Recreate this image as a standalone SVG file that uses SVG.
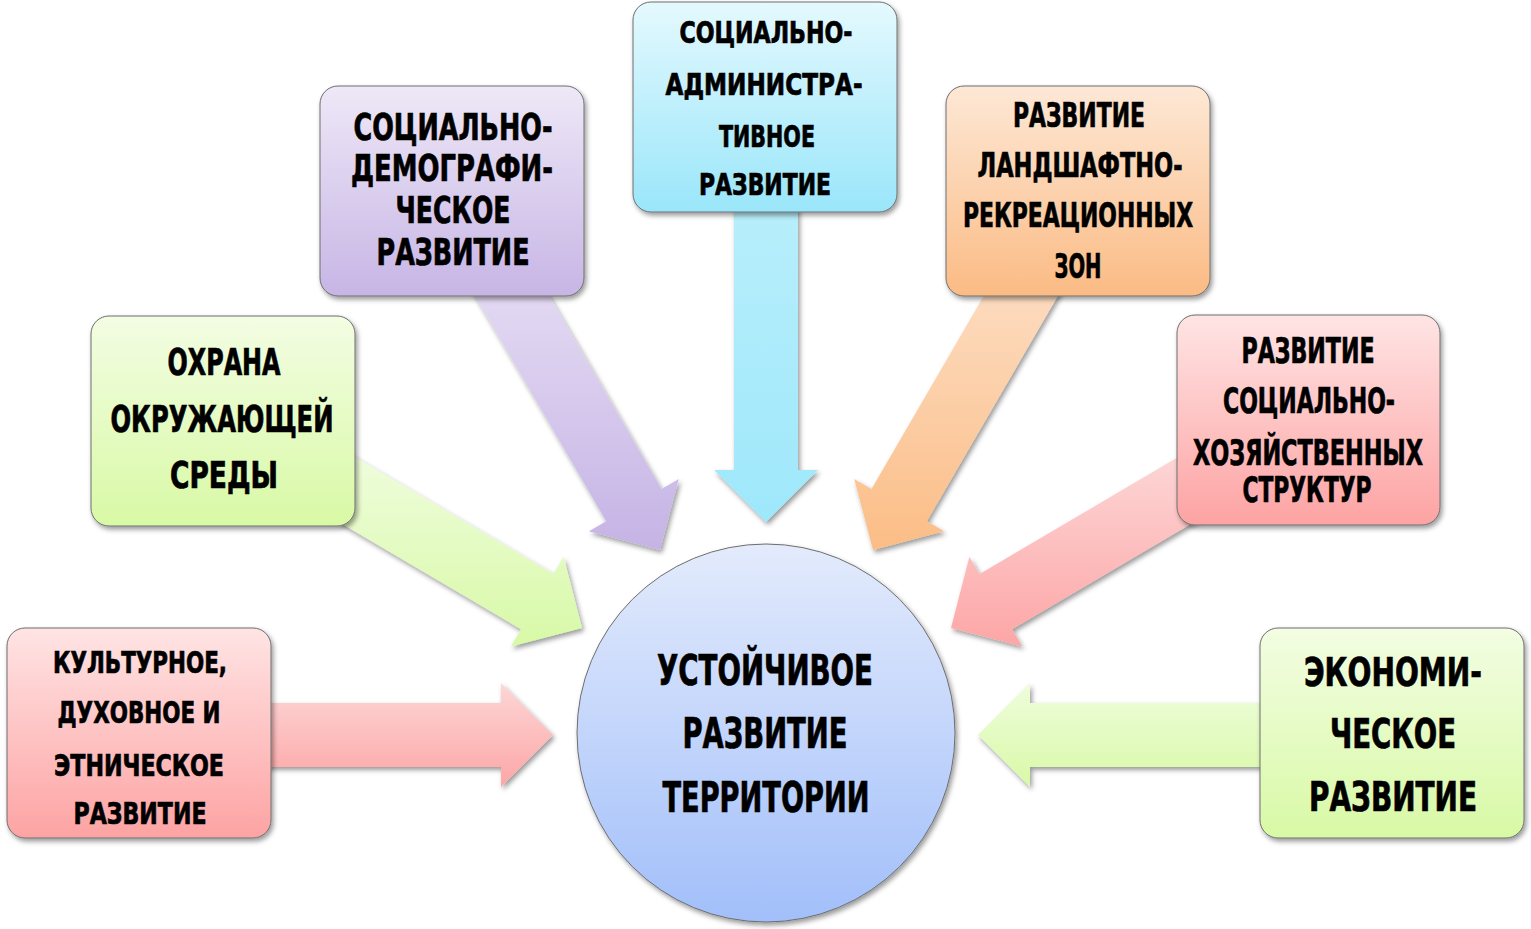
<svg xmlns="http://www.w3.org/2000/svg" width="1531" height="929" viewBox="0 0 1531 929">
<style>
.box{stroke:#6e6e6e;stroke-width:1;filter:url(#sh)}
.arr{filter:url(#sh)}
.t{font-family:"DejaVu Sans Condensed","Liberation Sans Narrow","DejaVu Sans","Liberation Sans",sans-serif;font-weight:bold;fill:#000;stroke:#000;stroke-width:0.7;text-anchor:middle}
</style>
<defs>
<filter id="sh" x="-20%" y="-20%" width="140%" height="140%">
<feDropShadow dx="2" dy="3" stdDeviation="2.5" flood-color="#000" flood-opacity="0.4"/>
</filter>
<linearGradient id="gPink" x1="0" y1="0" x2="0" y2="1"><stop offset="0" stop-color="#ffe4e4"/><stop offset="1" stop-color="#fda3a3"/></linearGradient>
<linearGradient id="gGreen" x1="0" y1="0" x2="0" y2="1"><stop offset="0" stop-color="#f3fde3"/><stop offset="1" stop-color="#d8f9a5"/></linearGradient>
<linearGradient id="gPurple" x1="0" y1="0" x2="0" y2="1"><stop offset="0" stop-color="#eee8f7"/><stop offset="1" stop-color="#c7b5e5"/></linearGradient>
<linearGradient id="gCyan" x1="0" y1="0" x2="0" y2="1"><stop offset="0" stop-color="#e4f9fe"/><stop offset="1" stop-color="#9ae6fa"/></linearGradient>
<linearGradient id="gOrange" x1="0" y1="0" x2="0" y2="1"><stop offset="0" stop-color="#fde8d6"/><stop offset="1" stop-color="#fbbb84"/></linearGradient>
<linearGradient id="gCircle" x1="0" y1="0" x2="0" y2="1"><stop offset="0" stop-color="#e3ebfc"/><stop offset="1" stop-color="#a2bffa"/></linearGradient>
<linearGradient id="aPink" x1="0" y1="0" x2="0" y2="1"><stop offset="0" stop-color="#fdd6d6"/><stop offset="1" stop-color="#fda6a6"/></linearGradient>
<linearGradient id="aGreen" x1="0" y1="0" x2="0" y2="1"><stop offset="0" stop-color="#effddc"/><stop offset="1" stop-color="#d8f9a7"/></linearGradient>
<linearGradient id="aPurple" x1="0" y1="0" x2="0" y2="1"><stop offset="0" stop-color="#e7def4"/><stop offset="1" stop-color="#c5b3e5"/></linearGradient>
<linearGradient id="aCyan" x1="0" y1="0" x2="0" y2="1"><stop offset="0" stop-color="#b8eefb"/><stop offset="1" stop-color="#9ee8fb"/></linearGradient>
<linearGradient id="aOrange" x1="0" y1="0" x2="0" y2="1"><stop offset="0" stop-color="#fddfc6"/><stop offset="1" stop-color="#fbbd86"/></linearGradient>
</defs>
<rect width="1531" height="929" fill="#fff"/>
<g id="connectors">
<polygon class="arr" fill="url(#aPink)" points="553,735 501,683 501,703 263,703 263,767 501,767 501,787"/>
<polygon class="arr" fill="url(#aGreen)" points="978,735 1030,787 1030,767 1268,767 1268,703 1030,703 1030,683"/>
<polygon class="arr" fill="url(#aCyan)" points="766,522 818,470 798,470 798,202 734,202 734,470 714,470"/>
<polygon class="arr" fill="url(#aPurple)" points="660,550 678.8,478.9 661.5,489 526.7,257.3 471.4,289.5 606.2,521.2 588.9,531.2"/>
<polygon class="arr" fill="url(#aOrange)" points="873,550 854.2,478.9 871.5,489 1006.3,257.3 1061.6,289.5 926.8,521.2 944.1,531.2"/>
<polygon class="arr" fill="url(#aGreen)" points="582,628 563.6,556.8 553.4,574 348.4,453.3 315.9,508.4 521,629.2 510.8,646.4"/>
<polygon class="arr" fill="url(#aPink)" points="951,628 969.4,556.8 979.6,574 1184.6,453.3 1217.1,508.4 1012,629.2 1022.2,646.4"/>
</g>
<g id="node-cultural">
<rect class="box" x="7" y="628" width="264" height="210" rx="18" fill="url(#gPink)"/>
<text class="t" font-size="31" x="140" y="673" textLength="174" lengthAdjust="spacingAndGlyphs">КУЛЬТУРНОЕ,</text>
<text class="t" font-size="31" x="139" y="723" textLength="163" lengthAdjust="spacingAndGlyphs">ДУХОВНОЕ И</text>
<text class="t" font-size="31" x="139" y="776" textLength="170" lengthAdjust="spacingAndGlyphs">ЭТНИЧЕСКОЕ</text>
<text class="t" font-size="31" x="140" y="824" textLength="133" lengthAdjust="spacingAndGlyphs">РАЗВИТИЕ</text>
</g>
<g id="node-environment">
<rect class="box" x="91" y="316" width="264" height="210" rx="18" fill="url(#gGreen)"/>
<text class="t" font-size="37" x="224" y="375" textLength="113" lengthAdjust="spacingAndGlyphs">ОХРАНА</text>
<text class="t" font-size="37" x="222" y="432" textLength="223" lengthAdjust="spacingAndGlyphs">ОКРУЖАЮЩЕЙ</text>
<text class="t" font-size="37" x="224" y="488" textLength="108" lengthAdjust="spacingAndGlyphs">СРЕДЫ</text>
</g>
<g id="node-demographic">
<rect class="box" x="320" y="86" width="264" height="210" rx="18" fill="url(#gPurple)"/>
<text class="t" font-size="37" x="453" y="140" textLength="199" lengthAdjust="spacingAndGlyphs">СОЦИАЛЬНО-</text>
<text class="t" font-size="37" x="452" y="181" textLength="202" lengthAdjust="spacingAndGlyphs">ДЕМОГРАФИ-</text>
<text class="t" font-size="37" x="453" y="223" textLength="115" lengthAdjust="spacingAndGlyphs">ЧЕСКОЕ</text>
<text class="t" font-size="37" x="453" y="265" textLength="153" lengthAdjust="spacingAndGlyphs">РАЗВИТИЕ</text>
</g>
<g id="node-administrative">
<rect class="box" x="633" y="2" width="264" height="210" rx="18" fill="url(#gCyan)"/>
<text class="t" font-size="30" x="766" y="43" textLength="173" lengthAdjust="spacingAndGlyphs">СОЦИАЛЬНО-</text>
<text class="t" font-size="30" x="764" y="95" textLength="197" lengthAdjust="spacingAndGlyphs">АДМИНИСТРА-</text>
<text class="t" font-size="30" x="767" y="147" textLength="96" lengthAdjust="spacingAndGlyphs">ТИВНОЕ</text>
<text class="t" font-size="30" x="765" y="195" textLength="132" lengthAdjust="spacingAndGlyphs">РАЗВИТИЕ</text>
</g>
<g id="node-landscape">
<rect class="box" x="946" y="86" width="264" height="210" rx="18" fill="url(#gOrange)"/>
<text class="t" font-size="34" x="1079" y="127" textLength="132" lengthAdjust="spacingAndGlyphs">РАЗВИТИЕ</text>
<text class="t" font-size="34" x="1080" y="177" textLength="205" lengthAdjust="spacingAndGlyphs">ЛАНДШАФТНО-</text>
<text class="t" font-size="34" x="1078" y="227" textLength="230" lengthAdjust="spacingAndGlyphs">РЕКРЕАЦИОННЫХ</text>
<text class="t" font-size="34" x="1078" y="278" textLength="47" lengthAdjust="spacingAndGlyphs">ЗОН</text>
</g>
<g id="node-economic-structures">
<rect class="box" x="1177" y="315" width="263" height="210" rx="18" fill="url(#gPink)"/>
<text class="t" font-size="35" x="1308" y="363" textLength="133" lengthAdjust="spacingAndGlyphs">РАЗВИТИЕ</text>
<text class="t" font-size="35" x="1309" y="413" textLength="172" lengthAdjust="spacingAndGlyphs">СОЦИАЛЬНО-</text>
<text class="t" font-size="35" x="1308" y="465" textLength="230" lengthAdjust="spacingAndGlyphs">ХОЗЯЙСТВЕННЫХ</text>
<text class="t" font-size="35" x="1307" y="502" textLength="129" lengthAdjust="spacingAndGlyphs">СТРУКТУР</text>
</g>
<g id="node-economic">
<rect class="box" x="1260" y="628" width="264" height="210" rx="18" fill="url(#gGreen)"/>
<text class="t" font-size="39" x="1393" y="686" textLength="178" lengthAdjust="spacingAndGlyphs">ЭКОНОМИ-</text>
<text class="t" font-size="40" x="1393" y="748" textLength="126" lengthAdjust="spacingAndGlyphs">ЧЕСКОЕ</text>
<text class="t" font-size="40" x="1393" y="811" textLength="168" lengthAdjust="spacingAndGlyphs">РАЗВИТИЕ</text>
</g>
<g id="node-center">
<circle class="box" cx="766" cy="733" r="189" fill="url(#gCircle)"/>
<text class="t" font-size="42" x="765" y="685" textLength="216" lengthAdjust="spacingAndGlyphs">УСТОЙЧИВОЕ</text>
<text class="t" font-size="42" x="765" y="748" textLength="165" lengthAdjust="spacingAndGlyphs">РАЗВИТИЕ</text>
<text class="t" font-size="42" x="766" y="812" textLength="207" lengthAdjust="spacingAndGlyphs">ТЕРРИТОРИИ</text>
</g>
</svg>
